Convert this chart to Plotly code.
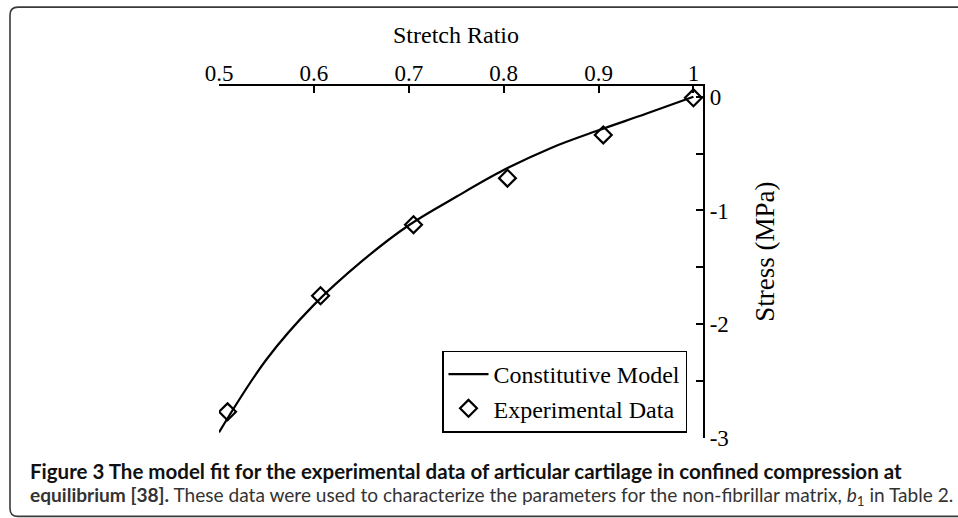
import plotly.graph_objects as go

# Constitutive model curve
model_stretch = [0.50, 0.55, 0.60, 0.65, 0.70, 0.75, 0.80, 0.85, 0.90, 0.95, 1.00]
model_stress = [-2.95, -2.31, -1.83, -1.45, -1.13, -0.88, -0.645, -0.45, -0.295, -0.15, 0.0]

# Experimental data
exp_stretch = [0.509, 0.607, 0.705, 0.804, 0.905, 1.0]
exp_stress = [-2.77, -1.75, -1.125, -0.716, -0.336, -0.01]

x_ticks = [0.5, 0.6, 0.7, 0.8, 0.9, 1.0]
x_ticklabels = ["0.5", "0.6", "0.7", "0.8", "0.9", "1"]
y_ticks = [0, -1, -2, -3]
y_ticklabels = ["0", "-1", "-2", "-3"]

W, H = 958, 518
L, R, T, B = 219, 703, 86, 438.5


def px(x):
    return (x - L) / (R - L)


def py(y):
    return (B - y) / (B - T)


SERIF = "Liberation Serif, Times New Roman, serif"

fig = go.Figure()
fig.add_trace(go.Scatter(
    x=model_stretch, y=model_stress, mode="lines", name="Constitutive Model",
    line=dict(color="black", width=2.2, shape="spline"),
))
fig.add_trace(go.Scatter(
    x=exp_stretch, y=exp_stress, mode="markers", name="Experimental Data",
    marker=dict(symbol="diamond-open", size=13, color="black", line=dict(width=2.2, color="black")),
))

fig.update_layout(
    width=W, height=H,
    margin=dict(l=L, r=W - R, t=T, b=H - B),
    paper_bgcolor="white", plot_bgcolor="white",
    font=dict(family=SERIF, size=23, color="black"),
    showlegend=True,
    legend=dict(
        x=px(687), y=py(433), xanchor="right", yanchor="bottom",
        bordercolor="black", borderwidth=1.5, bgcolor="white",
        font=dict(family=SERIF, size=24, color="black"),
        tracegroupgap=0, itemwidth=40,
    ),
    xaxis=dict(
        side="top", range=[0.5, 1.0101], tickvals=x_ticks, ticktext=x_ticklabels,
        ticks="inside", ticklen=7, tickwidth=2, tickcolor="black",
        ticklabelstandoff=-6,
        showline=True, linecolor="black", linewidth=2.2, mirror=False,
        showgrid=False, zeroline=False,
        tickfont=dict(family=SERIF, size=23),
    ),
    yaxis=dict(
        side="right", range=[-3, 0.094], tickvals=y_ticks, ticktext=y_ticklabels,
        ticks="inside", ticklen=7, tickwidth=2, tickcolor="black",
        minor=dict(tickvals=[-0.5, -1.5, -2.5], ticks="inside", ticklen=7,
                   tickwidth=2, tickcolor="black", showgrid=False),
        showline=True, linecolor="black", linewidth=2.2, mirror=False,
        showgrid=False, zeroline=False,
        tickfont=dict(family=SERIF, size=23),
    ),
)

# axis titles
fig.add_annotation(xref="paper", yref="paper", x=px(456), y=py(35),
                   xanchor="center", yanchor="middle", showarrow=False,
                   text="Stretch Ratio", font=dict(family=SERIF, size=24, color="black"))
fig.add_annotation(xref="paper", yref="paper", x=px(765), y=py(252),
                   xanchor="center", yanchor="middle", showarrow=False, textangle=-90,
                   text="Stress (MPa)", font=dict(family=SERIF, size=27, color="black"))

# rounded frame around the figure
x0, x1 = px(10), px(966)
yt, yb = py(7), py(517)
rx = 8 / (R - L)
ry = 8 / (B - T)
path = (f"M {x1},{yt} L {x0 + rx},{yt} Q {x0},{yt} {x0},{yt - ry} "
        f"L {x0},{yb + ry} Q {x0},{yb} {x0 + rx},{yb} L {x1},{yb}")
fig.add_shape(type="path", path=path, xref="paper", yref="paper",
              line=dict(color="#3a3a3a", width=1.6))

CAP = "Lato, Open Sans, sans-serif"
fig.add_annotation(
    xref="paper", yref="paper", x=px(28), y=py(472), xanchor="left", yanchor="middle",
    showarrow=False, align="left",
    text="<b>Figure 3 The model fit for the experimental data of articular cartilage in confined compression at</b>",
    font=dict(family=CAP, size=20.5, color="#111111"),
)
fig.add_annotation(
    xref="paper", yref="paper", x=px(28), y=py(497), xanchor="left", yanchor="middle",
    showarrow=False, align="left",
    text=("<b>equilibrium [38].</b> These data were used to characterize the parameters for the "
          "non-fibrillar matrix, <i>b</i><sub>1</sub> in Table 2."),
    font=dict(family=CAP, size=19.1, color="#333333"),
)

fig.write_html(
    "out.html",
    config={"displayModeBar": False},
    post_script="document.body.style.margin='0';document.body.style.overflow='hidden';",
)
